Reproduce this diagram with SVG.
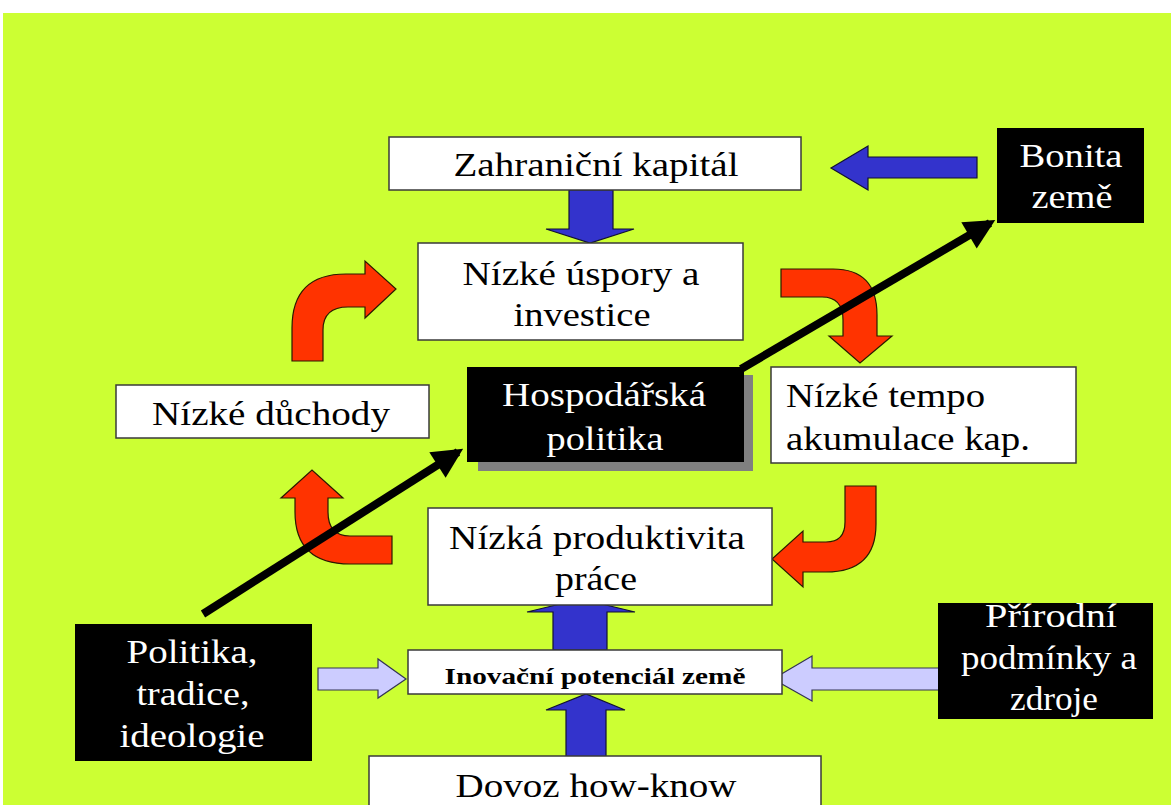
<svg xmlns="http://www.w3.org/2000/svg" width="1171" height="805" viewBox="0 0 1171 805">
  <style>
    .box { fill: #ffffff; stroke: #3a3a3a; stroke-width: 1.5; }
    .dark { fill: #000000; }
    .t { font-family: "Liberation Serif", "Times New Roman", serif; font-size: 33px; text-anchor: middle; fill: #000000; }
    .tw { font-family: "Liberation Serif", "Times New Roman", serif; font-size: 33px; text-anchor: middle; fill: #ffffff; }
    .tb { font-family: "Liberation Serif", "Times New Roman", serif; font-size: 23px; font-weight: bold; text-anchor: middle; fill: #000000; }
    .red { fill: #ff3300; stroke: #2a1a00; stroke-width: 1.2; stroke-linejoin: miter; }
    .blue { fill: #3333cc; stroke: #111133; stroke-width: 1.2; }
    .lav { fill: #ccccff; stroke: #333355; stroke-width: 1.2; }
    .diag { stroke: #000000; stroke-width: 8; fill: none; }
  </style>
  <defs>
    <marker id="head" viewBox="0 0 10 10" refX="8" refY="5" markerWidth="4" markerHeight="3.8" orient="auto" markerUnits="strokeWidth">
      <path d="M0,0 L10,5 L0,10 Z" fill="#000000"/>
    </marker>
  </defs>

  <!-- page background -->
  <rect x="0" y="0" width="1171" height="805" fill="#ffffff"/>
  <rect x="3" y="13" width="1168" height="792" fill="#ccff33"/>

  <!-- connectors -->
  <g id="connectors">
    <!-- red cycle arrows -->
    <path class="red" d="M292,361 L292,328 Q292,274 346,274 L365,274 L365,261 L396,289 L365,318 L365,307 L348,307 Q323,307 323,330 L323,361 Z"/>
    <path class="red" d="M781,269 L833,269 Q877,269 877,315 L877,336 L892,336 L860,363 L829,336 L843,336 L843,320 Q843,297 822,297 L781,297 Z"/>
    <path class="red" d="M845,486 L876,486 L876,524 Q876,572 826,572 L803,572 L803,587 L772,559 L803,531 L803,542 L826,542 Q845,542 845,522 Z"/>
    <path class="red" d="M392,536 L350,536 Q328,536 328,512 L328,498 L343,498 L312,470 L281,498 L295,498 L295,512 Q295,564 350,564 L392,564 Z"/>

    <!-- blue block arrows -->
    <path class="blue" d="M977,157 L868,157 L868,146 L831,168 L868,190 L868,178 L977,178 Z"/>
    <path class="blue" d="M569,190 L613,190 L613,229 L634,229 L590,243 L546,229 L569,229 Z"/>
    <path class="blue" d="M553,650 L553,612 L527,612 L581,599 L635,612 L607,612 L607,650 Z"/>
    <path class="blue" d="M566,757 L566,710 L546,710 L586,694 L625,710 L606,710 L606,757 Z"/>

    <!-- lavender block arrows -->
    <path class="lav" d="M318,668 L378,668 L378,659 L406,679 L378,698 L378,690 L318,690 Z"/>
    <path class="lav" d="M940,668 L812,668 L812,656 L773,679 L812,701 L812,690 L940,690 Z"/>

    <!-- black diagonal arrows -->
    <line class="diag" x1="203" y1="614" x2="458" y2="452" marker-end="url(#head)"/>
    <line class="diag" x1="741" y1="369" x2="990" y2="223" marker-end="url(#head)"/>
  </g>

  <g id="zahranicni-kapital">
    <rect class="box" x="389" y="137" width="412" height="53"/>
    <text class="t" x="596" y="176" textLength="285" lengthAdjust="spacingAndGlyphs">Zahraniční kapitál</text>
  </g>

  <g id="bonita-zeme">
    <rect class="dark" x="997" y="128" width="147" height="95"/>
    <text class="tw" x="1071" y="167" textLength="103" lengthAdjust="spacingAndGlyphs">Bonita</text>
    <text class="tw" x="1072" y="208" textLength="81" lengthAdjust="spacingAndGlyphs">země</text>
  </g>

  <g id="nizke-uspory">
    <rect class="box" x="418" y="243" width="325" height="97"/>
    <text class="t" x="581" y="285" textLength="237" lengthAdjust="spacingAndGlyphs">Nízké úspory a</text>
    <text class="t" x="582" y="326" textLength="137" lengthAdjust="spacingAndGlyphs">investice</text>
  </g>

  <g id="nizke-duchody">
    <rect class="box" x="116" y="385" width="313" height="53"/>
    <text class="t" x="271" y="425" textLength="238" lengthAdjust="spacingAndGlyphs">Nízké důchody</text>
  </g>

  <g id="hospodarska-politika">
    <rect x="478" y="375" width="275" height="96" fill="#808080"/>
    <rect class="dark" x="467" y="367" width="277" height="95"/>
    <text class="tw" x="604" y="406" textLength="204" lengthAdjust="spacingAndGlyphs">Hospodářská</text>
    <text class="tw" x="605" y="450" textLength="117" lengthAdjust="spacingAndGlyphs">politika</text>
  </g>

  <g id="nizke-tempo">
    <rect class="box" x="771" y="367" width="305" height="96"/>
    <text class="t" x="786" y="407" style="text-anchor:start" textLength="199" lengthAdjust="spacingAndGlyphs">Nízké tempo</text>
    <text class="t" x="786" y="450" style="text-anchor:start" textLength="244" lengthAdjust="spacingAndGlyphs">akumulace kap.</text>
  </g>

  <g id="nizka-produktivita">
    <rect class="box" x="428" y="508" width="344" height="97"/>
    <text class="t" x="597" y="549" textLength="296" lengthAdjust="spacingAndGlyphs">Nízká produktivita</text>
    <text class="t" x="596" y="590" textLength="82" lengthAdjust="spacingAndGlyphs">práce</text>
  </g>

  <g id="inovacni-potencial">
    <rect class="box" x="408" y="650" width="374" height="44"/>
    <text class="tb" x="595" y="684" textLength="301" lengthAdjust="spacingAndGlyphs">Inovační potenciál země</text>
  </g>

  <g id="politika-tradice">
    <rect class="dark" x="75" y="624" width="237" height="137"/>
    <text class="tw" x="192" y="663" textLength="131" lengthAdjust="spacingAndGlyphs">Politika,</text>
    <text class="tw" x="193" y="705" textLength="113" lengthAdjust="spacingAndGlyphs">tradice,</text>
    <text class="tw" x="192" y="747" textLength="145" lengthAdjust="spacingAndGlyphs">ideologie</text>
  </g>

  <g id="prirodni-podminky">
    <rect class="dark" x="938" y="603" width="215" height="116"/>
    <text class="tw" x="1051" y="627" textLength="132" lengthAdjust="spacingAndGlyphs">Přírodní</text>
    <text class="tw" x="1049" y="669" textLength="176" lengthAdjust="spacingAndGlyphs">podmínky a</text>
    <text class="tw" x="1054" y="710" textLength="88" lengthAdjust="spacingAndGlyphs">zdroje</text>
  </g>

  <g id="dovoz-know-how">
    <rect class="box" x="369" y="756" width="452" height="60"/>
    <text class="t" x="596" y="797" textLength="281" lengthAdjust="spacingAndGlyphs">Dovoz how-know</text>
  </g>
</svg>
